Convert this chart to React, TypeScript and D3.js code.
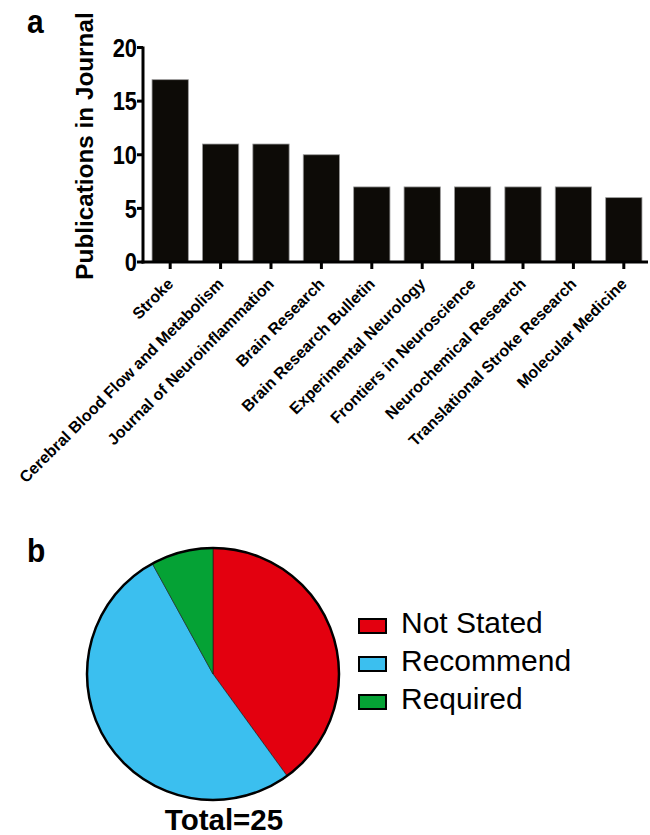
import React from "react";
import * as d3 from "d3";

const journals = [
  "Stroke",
  "Cerebral Blood Flow and Metabolism",
  "Journal of Neuroinflammation",
  "Brain Research",
  "Brain Research Bulletin",
  "Experimental Neurology",
  "Frontiers in Neuroscience",
  "Neurochemical Research",
  "Translational Stroke Research",
  "Molecular Medicine",
];
const publications = [17, 11, 11, 10, 7, 7, 7, 7, 7, 6];
const yTicks = [0, 5, 10, 15, 20];

const pieLabels = ["Not Stated", "Recommend", "Required"];
const pieValues = [10, 13, 2];
const pieColors = ["#e3000f", "#3bbfef", "#05a235"];
const total = 25;

const FONT = "'Liberation Sans', Arial, Helvetica, sans-serif";

export default function App() {
  const W = 650;
  const H = 835;
  const axisX = 143;
  const x = d3
    .scaleBand<string>()
    .domain(journals)
    .range([147, 647])
    .paddingInner(0.28)
    .paddingOuter(0.1);
  const y = d3.scaleLinear().domain([0, 20]).range([262, 47.5]);

  const pieData = d3.pie<number>().sort(null)(pieValues);
  const cx = 213;
  const cy = 674;
  const r = 126;
  const arc = d3.arc<d3.PieArcDatum<number>>().innerRadius(0).outerRadius(r);

  return (
    <svg
      width={W}
      height={H}
      style={{ position: "absolute", left: 0, top: 0, background: "#fff" }}
      fontFamily={FONT}
    >
      <text x={27} y={33} fontSize={30} fontWeight="bold" transform="translate(0,33) scale(1,1.1) translate(0,-33)">a</text>

      {/* Y label */}
      <text
        transform={`translate(93,146) rotate(-90)`}
        textAnchor="middle"
        fontSize={24.3}
        fontWeight="bold"
      >
        Publications in Journal
      </text>

      {/* bars */}
      {journals.map((j, i) => (
        <rect
          key={j}
          x={x(j)!}
          y={y(publications[i])}
          width={x.bandwidth()}
          height={y(0) - y(publications[i])}
          fill="#0d0b07"
          stroke="#9a9a9a"
          strokeWidth={0.8}
        />
      ))}

      {/* y axis */}
      <line x1={axisX} x2={axisX} y1={y(20) - 1} y2={y(0) + 1.5} stroke="#000" strokeWidth={3} />
      {yTicks.map((t) => (
        <g key={t}>
          <line x1={axisX - 6} x2={axisX} y1={y(t)} y2={y(t)} stroke="#000" strokeWidth={3} />
          <text
            transform={`translate(${axisX - 6},${y(t)}) scale(0.84,1)`}
            dy="0.36em"
            textAnchor="end"
            fontSize={26}
            fontWeight="bold"
          >
            {t}
          </text>
        </g>
      ))}

      {/* x axis */}
      <line x1={axisX - 1.5} x2={648} y1={y(0)} y2={y(0)} stroke="#000" strokeWidth={3} />
      {journals.map((j) => {
        const cxj = x(j)! + x.bandwidth() / 2;
        return (
          <g key={j}>
            <line x1={cxj} x2={cxj} y1={y(0)} y2={y(0) + 7} stroke="#000" strokeWidth={3} />
            <text
              transform={`translate(${cxj + 4},${y(0) + 23}) rotate(-45)`}
              textAnchor="end"
              fontSize={16}
              fontWeight="bold"
            >
              {j}
            </text>
          </g>
        );
      })}

      {/* pie */}
      <text x={27} y={562} fontSize={30} fontWeight="bold" transform="translate(0,562) scale(1,1.1) translate(0,-562)">b</text>
      <g transform={`translate(${cx},${cy})`}>
        {pieData.map((d, i) => (
          <path key={i} d={arc(d)!} fill={pieColors[i]} stroke="#1a1a1a" strokeWidth={0.6} />
        ))}
        <circle r={r} fill="none" stroke="#000" strokeWidth={2.5} />
      </g>
      <text x={224} y={830} textAnchor="middle" fontSize={29.5} fontWeight="bold">
        Total={total}
      </text>

      {/* legend */}
      {pieLabels.map((l, i) => (
        <g key={l} transform={`translate(359,${619 + i * 38})`}>
          <rect width={27} height={14} fill={pieColors[i]} stroke="#000" strokeWidth={2} />
          <text x={42} y={14} fontSize={30}>
            {l}
          </text>
        </g>
      ))}
    </svg>
  );
}
